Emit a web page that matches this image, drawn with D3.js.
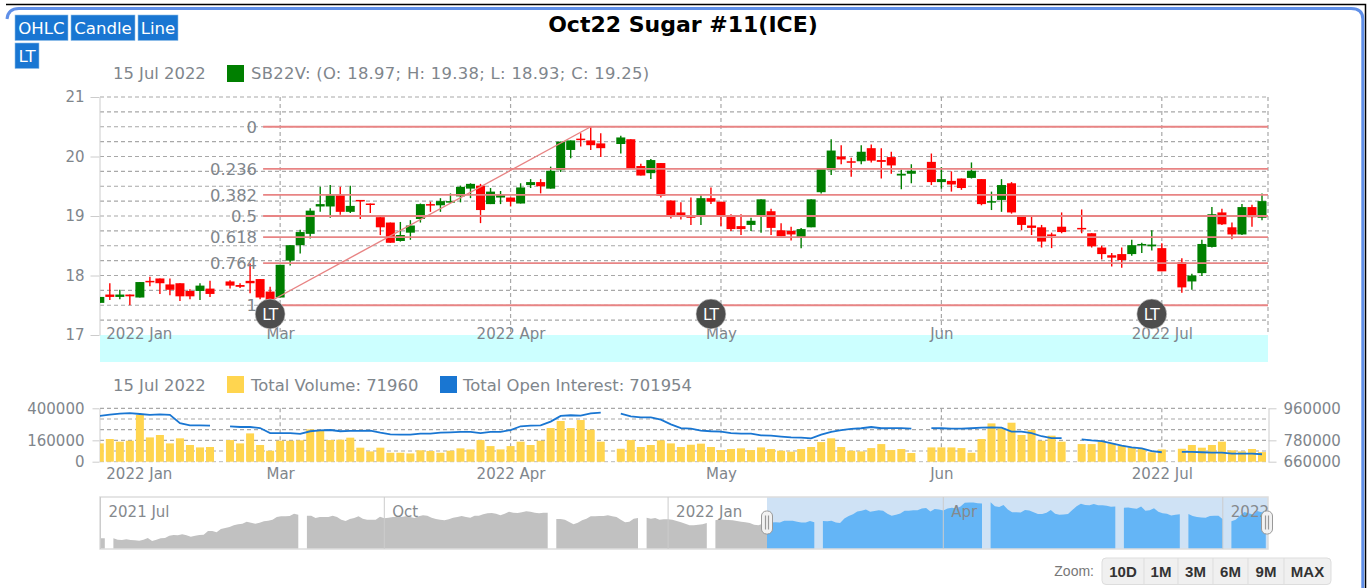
<!DOCTYPE html>
<html>
  <head>
    <meta charset="utf-8" />
    <title>Oct22 Sugar #11(ICE)</title>
    <script src="https://d3js.org/d3.v7.min.js"></script>
    <style>
      html, body {
        margin: 0;
        padding: 0;
        background: #fff;
        overflow: hidden;
      }
      svg {
        display: block;
      }
      text {
        font-family: "DejaVu Sans", sans-serif;
      }
      .axis-label {
        font-size: 15px;
        fill: #7f868c;
      }
      .legend {
        font-size: 16.4px;
        fill: #7f868c;
      }
      .grid {
        stroke: #a8a8a8;
        stroke-width: 1.2;
        stroke-dasharray: 4 3;
        fill: none;
      }
    </style>
  </head>
  <body>
    <svg width="1367" height="588"></svg>

    <script>
      // daily candles, Feb 3 to Jul 15 2022, one entry per weekday (null = market holiday)
      const open = [17.54,17.68,17.64,17.68,17.63,17.91,17.95,17.85,17.87,17.74,17.74,17.78,null,17.90,17.84,17.91,17.94,17.73,17.63,18.25,
        18.51,18.70,19.16,19.16,19.35,19.07,19.27,19.21,18.98,18.89,18.58,18.72,18.95,19.20,19.18,19.24,19.33,19.46,19.51,19.20,
        19.31,19.31,19.21,19.52,19.57,19.46,19.77,20.11,20.30,20.27,20.22,null,20.21,20.29,19.84,19.72,19.89,19.26,19.06,19.01,
        18.99,19.30,19.24,19.00,18.83,18.85,18.99,19.08,18.76,18.75,18.64,18.81,19.40,19.77,20.00,19.92,19.92,20.14,19.94,19.99,
        19.68,19.71,null,19.91,19.57,19.59,19.63,19.64,19.62,19.23,19.27,19.55,19.00,18.84,18.81,18.69,18.82,null,18.80,18.71,
        18.47,18.34,18.36,18.36,18.51,18.49,18.46,null,18.22,17.90,18.04,18.48,19.06,18.81,18.69,19.15,18.97];
      const high = [17.64,17.87,17.76,17.68,17.89,17.98,17.95,17.95,17.87,17.77,17.87,17.91,null,17.92,17.87,18.20,17.94,17.81,18.18,18.51,
        18.77,19.13,19.49,19.52,19.49,19.51,19.27,19.21,18.98,18.89,18.90,18.93,19.21,19.24,19.30,19.38,19.51,19.55,19.54,19.47,
        19.42,19.31,19.55,19.62,19.62,19.83,20.25,20.27,20.39,20.50,20.39,null,20.35,20.29,19.88,19.96,19.89,19.26,19.23,19.31,
        19.35,19.48,19.24,19.03,19.03,18.97,19.28,19.12,18.88,18.82,18.80,19.28,19.79,20.29,20.19,19.98,20.19,20.20,20.14,20.08,
        19.78,19.87,null,20.05,19.82,19.75,19.63,19.90,19.62,19.41,19.62,19.57,19.00,18.99,18.85,18.72,19.06,null,19.11,18.71,
        18.50,18.38,18.47,18.60,18.55,18.76,18.54,null,18.29,18.03,18.60,19.15,19.12,18.89,19.20,19.19,19.38];
      const low = [17.54,17.59,17.60,17.50,17.63,17.82,17.69,17.67,17.57,17.60,17.59,17.64,null,17.78,17.79,17.70,17.60,17.57,17.63,18.17,
        18.37,18.62,19.07,18.97,19.02,19.05,18.95,19.05,18.68,18.55,18.57,18.60,18.89,19.07,19.07,19.22,19.23,19.30,18.88,19.20,
        19.20,19.16,19.21,19.47,19.38,19.46,19.74,19.97,20.17,20.11,19.99,null,20.05,19.79,19.68,19.62,19.31,18.96,18.94,18.85,
        18.85,19.20,18.83,18.75,18.68,18.75,18.72,18.68,18.66,18.59,18.46,18.81,19.38,19.69,19.87,19.66,19.87,19.90,19.63,19.71,
        19.45,19.55,null,19.52,19.46,19.41,19.44,19.63,19.18,19.10,19.07,19.04,18.76,18.68,18.47,18.46,18.71,null,18.71,18.47,
        18.27,18.15,18.13,18.33,18.38,18.42,18.07,null,17.71,17.76,17.99,18.47,18.85,18.61,18.68,18.82,18.93];
      const close = [17.64,17.64,17.68,17.65,17.89,17.89,17.87,17.76,17.65,17.65,17.83,17.69,null,17.83,17.81,17.87,17.63,17.59,18.18,18.51,
        18.73,19.09,19.20,19.35,19.07,19.17,19.26,19.20,18.81,18.55,18.68,18.84,19.20,19.18,19.25,19.25,19.49,19.54,19.10,19.41,
        19.35,19.24,19.48,19.57,19.50,19.76,20.25,20.27,20.28,20.19,20.14,null,20.32,19.79,19.68,19.94,19.34,19.00,19.01,18.97,
        19.30,19.24,18.99,18.78,18.78,18.92,19.28,18.80,18.66,18.69,18.78,19.28,19.79,20.10,19.95,19.90,20.08,19.93,19.91,19.85,
        19.71,19.76,null,19.57,19.62,19.53,19.47,19.76,19.20,19.25,19.52,19.06,18.85,18.80,18.57,18.67,18.73,null,18.78,18.49,
        18.36,18.30,18.26,18.51,18.53,18.52,18.07,null,17.80,18.00,18.53,19.03,18.86,18.69,19.15,18.98,19.25];

      const volume = [137000,170000,150000,157000,350000,182000,200000,137000,175000,125000,107000,110000,null,162000,137000,212000,125000,82000,157000,157000,
        160000,242000,237000,162000,165000,180000,105000,77000,105000,67000,67000,62000,85000,80000,67000,82000,100000,92000,162000,117000,
        92000,117000,150000,125000,157000,252000,305000,252000,312000,240000,150000,null,97000,162000,110000,125000,160000,137000,110000,127000,
        135000,110000,87000,95000,100000,87000,107000,95000,82000,75000,95000,110000,147000,175000,110000,82000,77000,102000,132000,87000,
        95000,65000,null,107000,107000,107000,102000,67000,170000,287000,250000,292000,200000,237000,157000,195000,150000,null,132000,132000,
        150000,137000,120000,107000,95000,70000,92000,null,97000,125000,105000,125000,150000,85000,77000,95000,71960];
      const openInterest = [917000,924000,930000,933000,928000,923000,926000,923000,876000,864000,864000,863000,null,859000,855000,855000,849000,821000,820000,821000,
        816000,831000,836000,838000,831000,833000,833000,835000,823000,814000,812000,812000,818000,818000,823000,825000,828000,827000,821000,827000,
        827000,838000,859000,863000,864000,885000,917000,921000,919000,932000,936000,null,930000,915000,909000,909000,896000,870000,849000,846000,
        835000,831000,829000,821000,818000,818000,808000,806000,801000,797000,795000,791000,812000,827000,838000,844000,848000,855000,848000,849000,
        849000,846000,null,849000,848000,846000,846000,848000,851000,853000,851000,829000,829000,821000,803000,793000,793000,null,786000,780000,
        776000,763000,750000,741000,735000,720000,713000,null,715000,715000,713000,711000,711000,705000,705000,705000,701954];

      // navigator closes, Jul 1 2021 to Feb 2 2022
      const navClose = [15.56,15.56,null,15.56,15.39,15.34,15.43,15.34,15.30,15.25,15.39,15.61,15.21,15.39,15.56,15.61,15.91,16.00,15.96,16.09,
        15.96,15.78,15.91,16.00,16.04,16.53,16.53,16.35,16.79,16.92,17.05,17.27,17.40,17.49,17.75,17.62,17.49,17.62,17.80,17.89,
        18.02,18.37,18.46,18.46,18.50,18.81,18.68,null,18.54,18.54,18.24,18.37,18.37,18.37,18.54,18.37,18.02,17.84,18.11,18.24,
        18.46,18.15,18.02,18.02,18.02,18.41,18.19,18.28,18.37,18.37,18.37,18.46,18.37,18.24,18.46,18.59,18.54,18.28,18.11,18.02,
        17.93,18.06,18.28,18.37,18.50,18.37,18.28,18.54,18.54,18.72,18.85,18.89,18.81,18.59,18.81,19.07,18.94,18.89,18.98,19.11,
        19.07,18.94,18.85,18.94,18.94,null,18.11,18.11,18.02,17.71,17.40,17.62,17.93,18.15,18.46,18.46,18.50,18.50,18.59,18.46,
        18.37,18.02,17.67,17.75,18.15,18.24,null,18.28,18.15,18.24,18.02,18.06,18.06,18.02,17.84,17.67,17.49,17.27,17.27,17.36,
        17.40,17.58,null,17.93,18.06,18.02,17.97,17.93,17.84,17.75,17.67,17.58,17.36,17.27,17.49];

      const priceTicks = [21, 20, 19, 18, 17];
      const volumeTicks = [400000, 160000, 0];
      const interestTicks = [960000, 780000, 660000];
      const monthSlots = [0, 18, 41, 62, 84, 106];
      const monthLabels = ["2022 Jan", "Mar", "2022 Apr", "May", "Jun", "2022 Jul"];
      const navMonthSlots = [0, 66, 132, 196, 261];
      const navMonthLabels = ["2021 Jul", "Oct", "2022 Jan", "Apr", "2022 Jul"];

      const fibLevels = [0, 0.236, 0.382, 0.5, 0.618, 0.764, 1];
      const fibHigh = 20.5;
      const fibLow = 17.5;
      const fibStartSlot = 16.3;
      const fibEndSlot = 49;
      const markerSlots = [17, 61, 105];

      const chartButtons = ["OHLC", "Candle", "Line", "LT"];
      const zoomButtons = ["10D", "1M", "3M", "6M", "9M", "MAX"];

      const red = "#ff0000";
      const green = "#007f00";
      const yellow = "#ffd54f";
      const blue = "#1976d2";
      const fibColor = "#e88484";

      const svg = d3.select("svg");
      const left = 100, right = 1268;

      // frame around the widget
      const defs = svg.append("defs");
      defs.append("clipPath").attr("id", "plot-clip").append("rect")
        .attr("x", left).attr("y", 0).attr("width", right - left).attr("height", 588);
      defs.append("clipPath").attr("id", "nav-gray").append("rect")
        .attr("x", left).attr("y", 490).attr("width", 767 - left).attr("height", 70);
      defs.append("clipPath").attr("id", "nav-blue").append("rect")
        .attr("x", 767).attr("y", 490).attr("width", right - 767).attr("height", 70);

      svg.append("path")
        .attr("d", "M6 4.5H1365.5V588")
        .attr("fill", "none").attr("stroke", "#000").attr("stroke-width", 1.5);
      svg.append("path")
        .attr("d", "M7 19Q8 8.5 19 8.5H1351Q1362.8 8.5 1362.8 19V588")
        .attr("fill", "none").attr("stroke", "#5f8fe8").attr("stroke-width", 3);

      svg.append("text")
        .attr("x", 683).attr("y", 32)
        .attr("text-anchor", "middle")
        .attr("font-size", 22).attr("font-weight", "bold").attr("fill", "#000")
        .text("Oct22 Sugar #11(ICE)");

      // chart type buttons
      const buttonBoxes = [[15, 15, 53], [71, 15, 64], [138, 15, 40], [15, 43, 24]];
      chartButtons.forEach((label, i) => {
        const [bx, by, bw] = buttonBoxes[i];
        svg.append("rect")
          .attr("x", bx).attr("y", by).attr("width", bw).attr("height", 25.5)
          .attr("fill", blue).attr("stroke", "#90bfe8").attr("stroke-width", 0.6);
        svg.append("text")
          .attr("x", bx + bw / 2).attr("y", by + 19)
          .attr("text-anchor", "middle")
          .attr("font-size", 16.6).attr("fill", "#fff")
          .text(label);
      });

      // ---- price panel ----
      const x = d3.scaleLinear().domain([0, 116]).range([99.8, 1262]);
      const yPrice = d3.scaleLinear().domain([17, 21]).range([335, 97]);
      const slots = d3.range(open.length);

      svg.append("text").attr("class", "legend").attr("x", 113).attr("y", 79).text("15 Jul 2022");
      svg.append("rect").attr("x", 227).attr("y", 65).attr("width", 17).attr("height", 17).attr("fill", green);
      svg.append("text").attr("class", "legend").attr("x", 251).attr("y", 79)
        .attr("letter-spacing", 0.3)
        .text("SB22V: (O: 18.97; H: 19.38; L: 18.93; C: 19.25)");

      svg.append("g").selectAll("line")
        .data(d3.range(17.25, 21.01, 0.25))
        .join("line")
        .attr("class", "grid")
        .attr("x1", left).attr("x2", right)
        .attr("y1", d => yPrice(d)).attr("y2", d => yPrice(d));

      svg.append("g").selectAll("line")
        .data(monthSlots.slice(1))
        .join("line")
        .attr("class", "grid")
        .attr("x1", d => x(d)).attr("x2", d => x(d))
        .attr("y1", 97).attr("y2", 335);

      svg.append("line").attr("class", "grid")
        .attr("x1", right).attr("x2", right).attr("y1", 97).attr("y2", 335);

      svg.append("rect")
        .attr("x", left).attr("y", 335).attr("width", right - left).attr("height", 27)
        .attr("fill", "#ccffff");

      function styleAxis(g) {
        g.select(".domain").attr("stroke", "#ccc");
        g.selectAll(".tick line").attr("stroke", "#ccc");
        g.selectAll("text").attr("class", "axis-label").attr("fill", null);
      }

      svg.append("g")
        .attr("transform", `translate(${left - 0.5},0)`)
        .call(d3.axisLeft(yPrice).tickValues(priceTicks).tickSize(9).tickPadding(6).tickSizeOuter(0).tickFormat(d3.format("d")))
        .call(styleAxis);

      function monthAxis(y) {
        const g = svg.append("g")
          .attr("transform", `translate(0,${y})`)
          .call(d3.axisBottom(x).tickValues(monthSlots).tickSize(0).tickPadding(0)
            .tickFormat((d, i) => monthLabels[i]))
          .call(styleAxis);
        g.select(".domain").remove();
        g.selectAll("text").filter((d, i) => i === 0)
          .attr("text-anchor", "start").attr("x", 6);
      }
      monthAxis(328);

      // candles
      const candleData = slots.filter(i => open[i] !== null);
      const candles = svg.append("g").attr("clip-path", "url(#plot-clip)");
      const candleColor = i => (close[i] >= open[i] ? green : red);

      candles.selectAll("line")
        .data(candleData)
        .join("line")
        .attr("x1", i => x(i)).attr("x2", i => x(i))
        .attr("y1", i => yPrice(high[i])).attr("y2", i => yPrice(low[i]))
        .attr("stroke", candleColor).attr("stroke-width", 1.4);

      candles.selectAll("rect")
        .data(candleData)
        .join("rect")
        .attr("x", i => x(i) - 4.5).attr("width", 9)
        .attr("y", i => yPrice(Math.max(open[i], close[i])))
        .attr("height", i => Math.max(1.5, Math.abs(yPrice(open[i]) - yPrice(close[i]))))
        .attr("fill", candleColor);

      // fibonacci tool
      const fibValue = f => fibHigh - (fibHigh - fibLow) * f;
      const fib = svg.append("g");
      fib.selectAll("line")
        .data(fibLevels)
        .join("line")
        .attr("x1", x(fibStartSlot)).attr("x2", right)
        .attr("y1", d => yPrice(fibValue(d))).attr("y2", d => yPrice(fibValue(d)))
        .attr("stroke", fibColor).attr("stroke-width", 1.8);
      fib.append("line")
        .attr("x1", x(fibStartSlot)).attr("y1", yPrice(fibLow))
        .attr("x2", x(fibEndSlot)).attr("y2", yPrice(fibHigh))
        .attr("stroke", fibColor).attr("stroke-width", 1.4);
      fib.selectAll("text")
        .data(fibLevels)
        .join("text")
        .attr("x", 257)
        .attr("y", d => yPrice(fibValue(d)) + 6)
        .attr("text-anchor", "end")
        .attr("font-size", 16.4).attr("fill", "#7f868c")
        .text(d => d);

      // LT markers
      const markers = svg.append("g").selectAll("g")
        .data(markerSlots)
        .join("g")
        .attr("transform", d => `translate(${x(d)},314)`);
      markers.append("circle")
        .attr("r", 15).attr("fill", "#4d4d4d").attr("stroke", "#ddd").attr("stroke-width", 0.6);
      markers.append("text")
        .attr("y", 6).attr("text-anchor", "middle")
        .attr("font-size", 15.5).attr("fill", "#fff")
        .text("LT");

      // ---- volume panel ----
      const yVolume = d3.scaleLinear().domain([0, 400000]).range([461.7, 408.3]);
      const yInterest = d3.scaleLinear().domain([660000, 960000]).range([461.7, 408.3]);

      svg.append("text").attr("class", "legend").attr("x", 113).attr("y", 391).text("15 Jul 2022");
      svg.append("rect").attr("x", 227).attr("y", 376).attr("width", 17).attr("height", 17).attr("fill", yellow);
      svg.append("text").attr("class", "legend").attr("x", 251).attr("y", 391).text("Total Volume: 71960");
      svg.append("rect").attr("x", 440).attr("y", 376).attr("width", 17).attr("height", 17).attr("fill", blue);
      svg.append("text").attr("class", "legend").attr("x", 463).attr("y", 391).text("Total Open Interest: 701954");

      svg.append("g").selectAll("line")
        .data(d3.range(80000, 400001, 80000))
        .join("line")
        .attr("class", "grid")
        .attr("x1", left).attr("x2", right)
        .attr("y1", d => yVolume(d)).attr("y2", d => yVolume(d));

      svg.append("g").selectAll("line")
        .data(monthSlots.slice(1))
        .join("line")
        .attr("class", "grid")
        .attr("x1", d => x(d)).attr("x2", d => x(d))
        .attr("y1", 408.3).attr("y2", 461.7);

      svg.append("g").append("line")
        .attr("x1", left).attr("x2", right)
        .attr("y1", yVolume(0)).attr("y2", yVolume(0))
        .attr("stroke", "#bbb").attr("stroke-dasharray", "4 3");

      svg.append("g")
        .attr("transform", `translate(${left - 0.5},0)`)
        .call(d3.axisLeft(yVolume).tickValues(volumeTicks).tickSize(7).tickPadding(8).tickSizeOuter(0).tickFormat(d3.format("d")))
        .call(styleAxis);

      svg.append("g")
        .attr("transform", `translate(${right + 0.5},0)`)
        .call(d3.axisRight(yInterest).tickValues(interestTicks).tickSize(8).tickPadding(7).tickSizeOuter(0).tickFormat(d3.format("d")))
        .call(styleAxis);

      monthAxis(468);

      const panel = svg.append("g").attr("clip-path", "url(#plot-clip)");
      panel.selectAll("rect")
        .data(slots.filter(i => volume[i] !== null))
        .join("rect")
        .attr("x", i => x(i) - 4).attr("width", 8)
        .attr("y", i => yVolume(volume[i]))
        .attr("height", i => yVolume(0) - yVolume(volume[i]))
        .attr("fill", yellow);

      const interestLine = d3.line()
        .defined(i => openInterest[i] !== null)
        .x(i => x(i))
        .y(i => yInterest(openInterest[i]));

      panel.append("path")
        .attr("d", interestLine(slots))
        .attr("fill", "none").attr("stroke", blue).attr("stroke-width", 1.8);

      // ---- navigator ----
      const navValues = navClose.concat(close);
      const xNav = d3.scaleLinear().domain([0, 271]).range([100.5, 1265.8]);
      const yNav = d3.scaleLinear().domain([14.16, 21]).range([549, 497]);
      const navSlots = d3.range(navValues.length);

      svg.append("rect")
        .attr("x", 767).attr("y", 497).attr("width", right - 767).attr("height", 52)
        .attr("fill", "#cfe2f5");

      const navArea = d3.area()
        .defined(i => navValues[i] !== null)
        .x(i => xNav(i))
        .y0(yNav.range()[0])
        .y1(i => yNav(navValues[i]));

      svg.append("path")
        .attr("d", navArea(navSlots))
        .attr("clip-path", "url(#nav-gray)")
        .attr("fill", "#c1c1c1");
      svg.append("path")
        .attr("d", navArea(navSlots))
        .attr("clip-path", "url(#nav-blue)")
        .attr("fill", "#64b5f6");

      svg.append("rect")
        .attr("x", left).attr("y", 497).attr("width", right - left).attr("height", 52)
        .attr("fill", "none").attr("stroke", "#ddd").attr("stroke-width", 1.5);

      svg.append("g").selectAll("line")
        .data(navMonthSlots)
        .join("line")
        .attr("x1", d => xNav(d)).attr("x2", d => xNav(d))
        .attr("y1", 497).attr("y2", 549)
        .attr("stroke", "#ccc");

      svg.append("g").attr("clip-path", "url(#plot-clip)").selectAll("text")
        .data(navMonthSlots)
        .join("text")
        .attr("x", d => xNav(d) + 8)
        .attr("y", 517)
        .attr("font-size", 15).attr("fill", "#85898d")
        .text((d, i) => navMonthLabels[i]);

      const handles = svg.append("g").selectAll("g")
        .data([767, 1267])
        .join("g")
        .attr("transform", d => `translate(${d},522.5)`);
      handles.append("rect")
        .attr("x", -5.5).attr("y", -11.5).attr("width", 11).attr("height", 23).attr("rx", 5)
        .attr("fill", "#f2f2f2").attr("stroke", "#999").attr("stroke-width", 1);
      handles.selectAll("line")
        .data([-1.5, 1.5])
        .join("line")
        .attr("x1", d => d).attr("x2", d => d)
        .attr("y1", -7).attr("y2", 7)
        .attr("stroke", "#999").attr("stroke-width", 1.2);

      // ---- zoom buttons ----
      const zoomEdges = [1102, 1144, 1178, 1213, 1248, 1284, 1331];

      svg.append("text")
        .attr("x", 1094).attr("y", 576)
        .attr("text-anchor", "end")
        .attr("font-size", 14).attr("fill", "#777")
        .style("font-family", "'Liberation Sans', sans-serif")
        .text("Zoom:");

      svg.append("rect")
        .attr("x", 1102).attr("y", 558).attr("width", 229).attr("height", 26.5).attr("rx", 4)
        .attr("fill", "#f0f0f0").attr("stroke", "#ddd");

      zoomButtons.forEach((label, i) => {
        if (i > 0) {
          svg.append("line")
            .attr("x1", zoomEdges[i]).attr("x2", zoomEdges[i])
            .attr("y1", 558).attr("y2", 584.5)
            .attr("stroke", "#ddd");
        }
        svg.append("text")
          .attr("x", (zoomEdges[i] + zoomEdges[i + 1]) / 2).attr("y", 577)
          .attr("text-anchor", "middle")
          .attr("font-size", 15).attr("font-weight", "bold").attr("fill", "#333")
          .style("font-family", "'Liberation Sans', sans-serif")
          .text(label);
      });
    </script>
  </body>
</html>
